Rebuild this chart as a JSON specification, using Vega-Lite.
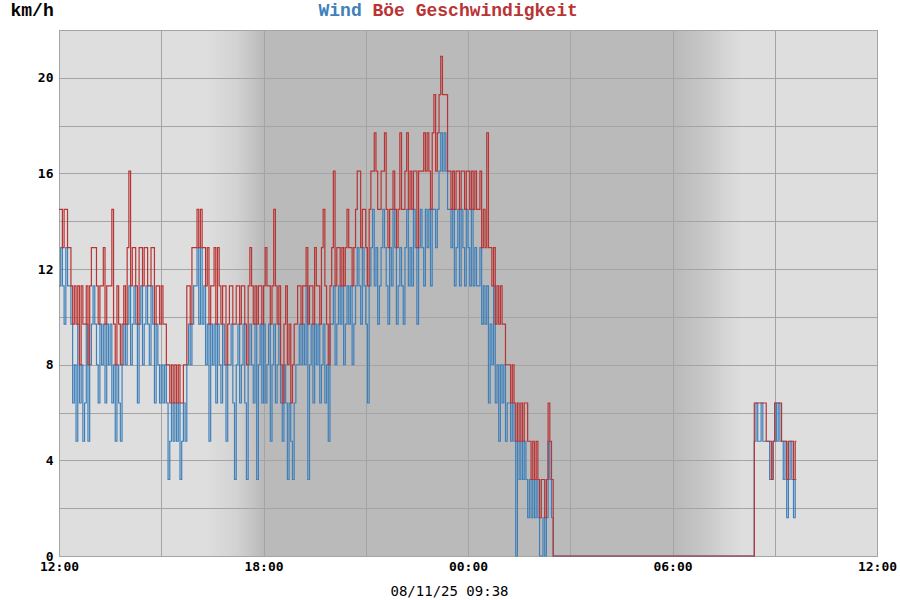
{
  "$schema": "https://vega.github.io/schema/vega-lite/v6.json",
  "width": 818,
  "height": 526,
  "autosize": "none",
  "padding": {"left": 59, "top": 30, "right": 23, "bottom": 44},
  "background": "white",
  "view": {
    "stroke": "#a4a4a4",
    "fill": {"gradient": "linear", "x1": 0, "y1": 0, "x2": 1, "y2": 0,
      "stops": [
        {"offset": 0, "color": "#dedede"},
        {"offset": 0.178, "color": "#dedede"},
        {"offset": 0.215, "color": "#d3d3d3"},
        {"offset": 0.236, "color": "#c4c4c4"},
        {"offset": 0.248, "color": "#bababa"},
        {"offset": 0.754, "color": "#bababa"},
        {"offset": 0.79, "color": "#c8c8c8"},
        {"offset": 0.815, "color": "#d6d6d6"},
        {"offset": 0.836, "color": "#dedede"},
        {"offset": 1, "color": "#dedede"}
      ]}
  },
  "data": {"values": [
    {"t":"2025-08-10T12:00","w":11.3,"g":14.5},{"t":"2025-08-10T12:03","w":12.9,"g":14.5},{"t":"2025-08-10T12:06","w":11.3,"g":12.9},{"t":"2025-08-10T12:09","w":9.7,"g":14.5},{"t":"2025-08-10T12:12","w":12.9,"g":14.5},
    {"t":"2025-08-10T12:15","w":11.3,"g":12.9},{"t":"2025-08-10T12:18","w":11.3,"g":12.9},{"t":"2025-08-10T12:21","w":9.7,"g":11.3},{"t":"2025-08-10T12:24","w":6.4,"g":9.7},{"t":"2025-08-10T12:27","w":8,"g":11.3},
    {"t":"2025-08-10T12:30","w":4.8,"g":9.7},{"t":"2025-08-10T12:33","w":9.7,"g":11.3},{"t":"2025-08-10T12:36","w":6.4,"g":8},{"t":"2025-08-10T12:39","w":8,"g":11.3},{"t":"2025-08-10T12:42","w":4.8,"g":9.7},
    {"t":"2025-08-10T12:45","w":6.4,"g":9.7},{"t":"2025-08-10T12:48","w":9.7,"g":11.3},{"t":"2025-08-10T12:51","w":4.8,"g":8},{"t":"2025-08-10T12:54","w":8,"g":11.3},{"t":"2025-08-10T12:57","w":9.7,"g":12.9},
    {"t":"2025-08-10T13:00","w":11.3,"g":12.9},{"t":"2025-08-10T13:03","w":9.7,"g":12.9},{"t":"2025-08-10T13:06","w":8,"g":11.3},{"t":"2025-08-10T13:09","w":6.4,"g":9.7},{"t":"2025-08-10T13:12","w":9.7,"g":11.3},
    {"t":"2025-08-10T13:15","w":8,"g":11.3},{"t":"2025-08-10T13:18","w":9.7,"g":12.9},{"t":"2025-08-10T13:21","w":6.4,"g":9.7},{"t":"2025-08-10T13:24","w":9.7,"g":11.3},{"t":"2025-08-10T13:27","w":8,"g":11.3},
    {"t":"2025-08-10T13:30","w":9.7,"g":11.3},{"t":"2025-08-10T13:33","w":6.4,"g":14.5},{"t":"2025-08-10T13:36","w":8,"g":9.7},{"t":"2025-08-10T13:39","w":4.8,"g":8},{"t":"2025-08-10T13:42","w":8,"g":11.3},
    {"t":"2025-08-10T13:45","w":6.4,"g":9.7},{"t":"2025-08-10T13:48","w":4.8,"g":8},{"t":"2025-08-10T13:51","w":8,"g":9.7},{"t":"2025-08-10T13:54","w":9.7,"g":11.3},{"t":"2025-08-10T13:57","w":8,"g":9.7},
    {"t":"2025-08-10T14:00","w":9.7,"g":12.9},{"t":"2025-08-10T14:03","w":11.3,"g":16.1},{"t":"2025-08-10T14:06","w":8,"g":11.3},{"t":"2025-08-10T14:09","w":9.7,"g":12.9},{"t":"2025-08-10T14:12","w":11.3,"g":12.9},
    {"t":"2025-08-10T14:15","w":9.7,"g":11.3},{"t":"2025-08-10T14:18","w":6.4,"g":9.7},{"t":"2025-08-10T14:21","w":9.7,"g":12.9},{"t":"2025-08-10T14:24","w":11.3,"g":12.9},{"t":"2025-08-10T14:27","w":8,"g":11.3},
    {"t":"2025-08-10T14:30","w":9.7,"g":12.9},{"t":"2025-08-10T14:33","w":11.3,"g":12.9},{"t":"2025-08-10T14:36","w":9.7,"g":11.3},{"t":"2025-08-10T14:39","w":8,"g":11.3},{"t":"2025-08-10T14:42","w":11.3,"g":12.9},
    {"t":"2025-08-10T14:45","w":9.7,"g":12.9},{"t":"2025-08-10T14:48","w":6.4,"g":9.7},{"t":"2025-08-10T14:51","w":9.7,"g":11.3},{"t":"2025-08-10T14:54","w":8,"g":11.3},{"t":"2025-08-10T14:57","w":6.4,"g":9.7},
    {"t":"2025-08-10T15:00","w":8,"g":11.3},{"t":"2025-08-10T15:03","w":6.4,"g":9.7},{"t":"2025-08-10T15:06","w":8,"g":9.7},{"t":"2025-08-10T15:09","w":6.4,"g":8},{"t":"2025-08-10T15:12","w":3.2,"g":8},
    {"t":"2025-08-10T15:15","w":4.8,"g":6.4},{"t":"2025-08-10T15:18","w":6.4,"g":8},{"t":"2025-08-10T15:21","w":4.8,"g":6.4},{"t":"2025-08-10T15:24","w":6.4,"g":8},{"t":"2025-08-10T15:27","w":4.8,"g":6.4},
    {"t":"2025-08-10T15:30","w":6.4,"g":8},{"t":"2025-08-10T15:33","w":3.2,"g":6.4},{"t":"2025-08-10T15:36","w":4.8,"g":6.4},{"t":"2025-08-10T15:39","w":6.4,"g":8},{"t":"2025-08-10T15:42","w":4.8,"g":8},
    {"t":"2025-08-10T15:45","w":8,"g":11.3},{"t":"2025-08-10T15:48","w":9.7,"g":11.3},{"t":"2025-08-10T15:51","w":8,"g":9.7},{"t":"2025-08-10T15:54","w":9.7,"g":12.9},{"t":"2025-08-10T15:57","w":11.3,"g":12.9},
    {"t":"2025-08-10T16:00","w":11.3,"g":12.9},{"t":"2025-08-10T16:03","w":12.9,"g":14.5},{"t":"2025-08-10T16:06","w":9.7,"g":12.9},{"t":"2025-08-10T16:09","w":12.9,"g":14.5},{"t":"2025-08-10T16:12","w":9.7,"g":12.9},
    {"t":"2025-08-10T16:15","w":11.3,"g":12.9},{"t":"2025-08-10T16:18","w":8,"g":11.3},{"t":"2025-08-10T16:21","w":9.7,"g":12.9},{"t":"2025-08-10T16:24","w":4.8,"g":9.7},{"t":"2025-08-10T16:27","w":9.7,"g":11.3},
    {"t":"2025-08-10T16:30","w":8,"g":11.3},{"t":"2025-08-10T16:33","w":9.7,"g":12.9},{"t":"2025-08-10T16:36","w":6.4,"g":9.7},{"t":"2025-08-10T16:39","w":9.7,"g":12.9},{"t":"2025-08-10T16:42","w":8,"g":11.3},
    {"t":"2025-08-10T16:45","w":6.4,"g":9.7},{"t":"2025-08-10T16:48","w":9.7,"g":11.3},{"t":"2025-08-10T16:51","w":8,"g":11.3},{"t":"2025-08-10T16:54","w":4.8,"g":8},{"t":"2025-08-10T16:57","w":8,"g":9.7},
    {"t":"2025-08-10T17:00","w":8,"g":11.3},{"t":"2025-08-10T17:03","w":9.7,"g":11.3},{"t":"2025-08-10T17:06","w":6.4,"g":9.7},{"t":"2025-08-10T17:09","w":3.2,"g":9.7},{"t":"2025-08-10T17:12","w":8,"g":11.3},
    {"t":"2025-08-10T17:15","w":9.7,"g":11.3},{"t":"2025-08-10T17:18","w":6.4,"g":9.7},{"t":"2025-08-10T17:21","w":8,"g":11.3},{"t":"2025-08-10T17:24","w":9.7,"g":11.3},{"t":"2025-08-10T17:27","w":6.4,"g":9.7},
    {"t":"2025-08-10T17:30","w":3.2,"g":8},{"t":"2025-08-10T17:33","w":8,"g":11.3},{"t":"2025-08-10T17:36","w":9.7,"g":12.9},{"t":"2025-08-10T17:39","w":8,"g":11.3},{"t":"2025-08-10T17:42","w":6.4,"g":9.7},
    {"t":"2025-08-10T17:45","w":9.7,"g":11.3},{"t":"2025-08-10T17:48","w":3.2,"g":9.7},{"t":"2025-08-10T17:51","w":8,"g":11.3},{"t":"2025-08-10T17:54","w":9.7,"g":11.3},{"t":"2025-08-10T17:57","w":6.4,"g":9.7},
    {"t":"2025-08-10T18:00","w":9.7,"g":11.3},{"t":"2025-08-10T18:03","w":6.4,"g":12.9},{"t":"2025-08-10T18:06","w":8,"g":11.3},{"t":"2025-08-10T18:09","w":9.7,"g":11.3},{"t":"2025-08-10T18:12","w":4.8,"g":9.7},
    {"t":"2025-08-10T18:15","w":8,"g":11.3},{"t":"2025-08-10T18:18","w":9.7,"g":14.5},{"t":"2025-08-10T18:21","w":6.4,"g":11.3},{"t":"2025-08-10T18:24","w":8,"g":9.7},{"t":"2025-08-10T18:27","w":9.7,"g":11.3},
    {"t":"2025-08-10T18:30","w":6.4,"g":8},{"t":"2025-08-10T18:33","w":4.8,"g":6.4},{"t":"2025-08-10T18:36","w":8,"g":9.7},{"t":"2025-08-10T18:39","w":6.4,"g":11.3},{"t":"2025-08-10T18:42","w":3.2,"g":8},
    {"t":"2025-08-10T18:45","w":6.4,"g":9.7},{"t":"2025-08-10T18:48","w":4.8,"g":6.4},{"t":"2025-08-10T18:51","w":3.2,"g":8},{"t":"2025-08-10T18:54","w":6.4,"g":9.7},{"t":"2025-08-10T18:57","w":8,"g":9.7},
    {"t":"2025-08-10T19:00","w":8,"g":11.3},{"t":"2025-08-10T19:03","w":9.7,"g":11.3},{"t":"2025-08-10T19:06","w":8,"g":9.7},{"t":"2025-08-10T19:09","w":9.7,"g":11.3},{"t":"2025-08-10T19:12","w":8,"g":11.3},
    {"t":"2025-08-10T19:15","w":11.3,"g":12.9},{"t":"2025-08-10T19:18","w":3.2,"g":9.7},{"t":"2025-08-10T19:21","w":8,"g":11.3},{"t":"2025-08-10T19:24","w":9.7,"g":11.3},{"t":"2025-08-10T19:27","w":6.4,"g":9.7},
    {"t":"2025-08-10T19:30","w":9.7,"g":12.9},{"t":"2025-08-10T19:33","w":8,"g":11.3},{"t":"2025-08-10T19:36","w":9.7,"g":11.3},{"t":"2025-08-10T19:39","w":6.4,"g":9.7},{"t":"2025-08-10T19:42","w":8,"g":12.9},
    {"t":"2025-08-10T19:45","w":9.7,"g":14.5},{"t":"2025-08-10T19:48","w":6.4,"g":11.3},{"t":"2025-08-10T19:51","w":8,"g":9.7},{"t":"2025-08-10T19:54","w":4.8,"g":8},{"t":"2025-08-10T19:57","w":9.7,"g":11.3},
    {"t":"2025-08-10T20:00","w":9.7,"g":12.9},{"t":"2025-08-10T20:03","w":11.3,"g":16.1},{"t":"2025-08-10T20:06","w":8,"g":11.3},{"t":"2025-08-10T20:09","w":9.7,"g":12.9},{"t":"2025-08-10T20:12","w":11.3,"g":12.9},
    {"t":"2025-08-10T20:15","w":9.7,"g":11.3},{"t":"2025-08-10T20:18","w":11.3,"g":12.9},{"t":"2025-08-10T20:21","w":8,"g":11.3},{"t":"2025-08-10T20:24","w":9.7,"g":12.9},{"t":"2025-08-10T20:27","w":11.3,"g":14.5},
    {"t":"2025-08-10T20:30","w":9.7,"g":12.9},{"t":"2025-08-10T20:33","w":11.3,"g":12.9},{"t":"2025-08-10T20:36","w":8,"g":11.3},{"t":"2025-08-10T20:39","w":9.7,"g":12.9},{"t":"2025-08-10T20:42","w":11.3,"g":14.5},
    {"t":"2025-08-10T20:45","w":12.9,"g":16.1},{"t":"2025-08-10T20:48","w":11.3,"g":16.1},{"t":"2025-08-10T20:51","w":9.7,"g":12.9},{"t":"2025-08-10T20:54","w":12.9,"g":14.5},{"t":"2025-08-10T20:57","w":11.3,"g":14.5},
    {"t":"2025-08-10T21:00","w":9.7,"g":12.9},{"t":"2025-08-10T21:03","w":6.4,"g":11.3},{"t":"2025-08-10T21:06","w":11.3,"g":14.5},{"t":"2025-08-10T21:09","w":12.9,"g":16.1},{"t":"2025-08-10T21:12","w":14.5,"g":16.1},
    {"t":"2025-08-10T21:15","w":11.3,"g":17.7},{"t":"2025-08-10T21:18","w":12.9,"g":16.1},{"t":"2025-08-10T21:21","w":9.7,"g":14.5},{"t":"2025-08-10T21:24","w":11.3,"g":14.5},{"t":"2025-08-10T21:27","w":12.9,"g":16.1},
    {"t":"2025-08-10T21:30","w":14.5,"g":16.1},{"t":"2025-08-10T21:33","w":12.9,"g":17.7},{"t":"2025-08-10T21:36","w":11.3,"g":14.5},{"t":"2025-08-10T21:39","w":9.7,"g":12.9},{"t":"2025-08-10T21:42","w":12.9,"g":14.5},
    {"t":"2025-08-10T21:45","w":11.3,"g":14.5},{"t":"2025-08-10T21:48","w":14.5,"g":16.1},{"t":"2025-08-10T21:51","w":12.9,"g":14.5},{"t":"2025-08-10T21:54","w":9.7,"g":12.9},{"t":"2025-08-10T21:57","w":11.3,"g":14.5},
    {"t":"2025-08-10T22:00","w":12.9,"g":17.7},{"t":"2025-08-10T22:03","w":11.3,"g":14.5},{"t":"2025-08-10T22:06","w":9.7,"g":14.5},{"t":"2025-08-10T22:09","w":12.9,"g":16.1},{"t":"2025-08-10T22:12","w":14.5,"g":17.7},
    {"t":"2025-08-10T22:15","w":11.3,"g":14.5},{"t":"2025-08-10T22:18","w":12.9,"g":16.1},{"t":"2025-08-10T22:21","w":11.3,"g":14.5},{"t":"2025-08-10T22:24","w":14.5,"g":16.1},{"t":"2025-08-10T22:27","w":12.9,"g":16.1},
    {"t":"2025-08-10T22:30","w":9.7,"g":12.9},{"t":"2025-08-10T22:33","w":12.9,"g":16.1},{"t":"2025-08-10T22:36","w":14.5,"g":16.1},{"t":"2025-08-10T22:39","w":12.9,"g":16.1},{"t":"2025-08-10T22:42","w":11.3,"g":17.7},
    {"t":"2025-08-10T22:45","w":14.5,"g":16.1},{"t":"2025-08-10T22:48","w":12.9,"g":17.7},{"t":"2025-08-10T22:51","w":14.5,"g":16.1},{"t":"2025-08-10T22:54","w":11.3,"g":14.5},{"t":"2025-08-10T22:57","w":14.5,"g":17.7},
    {"t":"2025-08-10T23:00","w":14.5,"g":19.3},{"t":"2025-08-10T23:03","w":12.9,"g":16.1},{"t":"2025-08-10T23:06","w":14.5,"g":17.7},{"t":"2025-08-10T23:09","w":16.1,"g":19.3},{"t":"2025-08-10T23:12","w":17.7,"g":20.9},
    {"t":"2025-08-10T23:15","w":16.1,"g":19.3},{"t":"2025-08-10T23:18","w":17.7,"g":19.3},{"t":"2025-08-10T23:21","w":16.1,"g":19.3},{"t":"2025-08-10T23:24","w":14.5,"g":16.1},{"t":"2025-08-10T23:27","w":14.5,"g":16.1},
    {"t":"2025-08-10T23:30","w":12.9,"g":14.5},{"t":"2025-08-10T23:33","w":14.5,"g":16.1},{"t":"2025-08-10T23:36","w":11.3,"g":14.5},{"t":"2025-08-10T23:39","w":12.9,"g":16.1},{"t":"2025-08-10T23:42","w":14.5,"g":16.1},
    {"t":"2025-08-10T23:45","w":11.3,"g":14.5},{"t":"2025-08-10T23:48","w":14.5,"g":16.1},{"t":"2025-08-10T23:51","w":12.9,"g":16.1},{"t":"2025-08-10T23:54","w":11.3,"g":14.5},{"t":"2025-08-10T23:57","w":14.5,"g":16.1},
    {"t":"2025-08-11T00:00","w":12.9,"g":16.1},{"t":"2025-08-11T00:03","w":11.3,"g":14.5},{"t":"2025-08-11T00:06","w":14.5,"g":16.1},{"t":"2025-08-11T00:09","w":11.3,"g":14.5},{"t":"2025-08-11T00:12","w":12.9,"g":16.1},
    {"t":"2025-08-11T00:15","w":11.3,"g":14.5},{"t":"2025-08-11T00:18","w":11.3,"g":14.5},{"t":"2025-08-11T00:21","w":12.9,"g":16.1},{"t":"2025-08-11T00:24","w":9.7,"g":12.9},{"t":"2025-08-11T00:27","w":11.3,"g":14.5},
    {"t":"2025-08-11T00:30","w":9.7,"g":12.9},{"t":"2025-08-11T00:33","w":11.3,"g":17.7},{"t":"2025-08-11T00:36","w":6.4,"g":12.9},{"t":"2025-08-11T00:39","w":9.7,"g":12.9},{"t":"2025-08-11T00:42","w":8,"g":11.3},
    {"t":"2025-08-11T00:45","w":11.3,"g":12.9},{"t":"2025-08-11T00:48","w":6.4,"g":9.7},{"t":"2025-08-11T00:51","w":8,"g":11.3},{"t":"2025-08-11T00:54","w":4.8,"g":9.7},{"t":"2025-08-11T00:57","w":8,"g":11.3},
    {"t":"2025-08-11T01:00","w":6.4,"g":9.7},{"t":"2025-08-11T01:03","w":8,"g":9.7},{"t":"2025-08-11T01:06","w":4.8,"g":8},{"t":"2025-08-11T01:09","w":6.4,"g":8},{"t":"2025-08-11T01:12","w":6.4,"g":8},
    {"t":"2025-08-11T01:15","w":4.8,"g":6.4},{"t":"2025-08-11T01:18","w":6.4,"g":8},{"t":"2025-08-11T01:21","w":4.8,"g":6.4},{"t":"2025-08-11T01:24","w":0,"g":4.8},{"t":"2025-08-11T01:27","w":4.8,"g":6.4},
    {"t":"2025-08-11T01:30","w":3.2,"g":4.8},{"t":"2025-08-11T01:33","w":4.8,"g":6.4},{"t":"2025-08-11T01:36","w":3.2,"g":4.8},{"t":"2025-08-11T01:39","w":4.8,"g":6.4},{"t":"2025-08-11T01:42","w":3.2,"g":6.4},
    {"t":"2025-08-11T01:45","w":1.6,"g":4.8},{"t":"2025-08-11T01:48","w":3.2,"g":4.8},{"t":"2025-08-11T01:51","w":1.6,"g":3.2},{"t":"2025-08-11T01:54","w":3.2,"g":4.8},{"t":"2025-08-11T01:57","w":1.6,"g":3.2},
    {"t":"2025-08-11T02:00","w":3.2,"g":4.8},{"t":"2025-08-11T02:03","w":1.6,"g":3.2},{"t":"2025-08-11T02:06","w":0,"g":1.6},{"t":"2025-08-11T02:09","w":0,"g":3.2},{"t":"2025-08-11T02:12","w":1.6,"g":3.2},
    {"t":"2025-08-11T02:15","w":0,"g":1.6},{"t":"2025-08-11T02:18","w":1.6,"g":3.2},{"t":"2025-08-11T02:21","w":4.8,"g":6.4},{"t":"2025-08-11T02:24","w":3.2,"g":4.8},{"t":"2025-08-11T02:27","w":1.6,"g":3.2},
    {"t":"2025-08-11T02:30","w":0,"g":0},
    {"t":"2025-08-11T08:21","w":0,"g":0},
    {"t":"2025-08-11T08:24","w":4.8,"g":6.4},{"t":"2025-08-11T08:27","w":6.4,"g":6.4},{"t":"2025-08-11T08:30","w":4.8,"g":6.4},{"t":"2025-08-11T08:33","w":4.8,"g":6.4},{"t":"2025-08-11T08:36","w":6.4,"g":6.4},
    {"t":"2025-08-11T08:39","w":4.8,"g":6.4},{"t":"2025-08-11T08:42","w":4.8,"g":6.4},{"t":"2025-08-11T08:45","w":4.8,"g":4.8},{"t":"2025-08-11T08:48","w":4.8,"g":4.8},{"t":"2025-08-11T08:51","w":3.2,"g":4.8},
    {"t":"2025-08-11T08:54","w":3.2,"g":3.2},{"t":"2025-08-11T08:57","w":4.8,"g":4.8},{"t":"2025-08-11T09:00","w":6.4,"g":6.4},{"t":"2025-08-11T09:03","w":4.8,"g":6.4},{"t":"2025-08-11T09:06","w":6.4,"g":6.4},
    {"t":"2025-08-11T09:09","w":4.8,"g":6.4},{"t":"2025-08-11T09:12","w":4.8,"g":4.8},{"t":"2025-08-11T09:15","w":3.2,"g":4.8},{"t":"2025-08-11T09:18","w":4.8,"g":4.8},{"t":"2025-08-11T09:21","w":1.6,"g":3.2},
    {"t":"2025-08-11T09:24","w":3.2,"g":4.8},{"t":"2025-08-11T09:27","w":4.8,"g":4.8},{"t":"2025-08-11T09:30","w":3.2,"g":4.8},{"t":"2025-08-11T09:33","w":1.6,"g":3.2},{"t":"2025-08-11T09:36","w":3.2,"g":4.8},
    {"t":"2025-08-11T09:38","w":3.2,"g":4.8}
  ]},
  "resolve": {"axis": {"x": "independent", "y": "independent"}},
  "layer": [
    {
      "mark": {"type": "line", "interpolate": "step-after", "color": "#3f80ba", "strokeWidth": 1.2},
      "encoding": {
        "x": {
          "field": "t", "type": "temporal",
          "scale": {"domain": [{"year": 2025, "month": 8, "date": 10, "hours": 12}, {"year": 2025, "month": 8, "date": 11, "hours": 12}]},
          "axis": {
            "orient": "bottom",
            "values": [
              {"year": 2025, "month": 8, "date": 10, "hours": 12},
              {"year": 2025, "month": 8, "date": 10, "hours": 15},
              {"year": 2025, "month": 8, "date": 10, "hours": 18},
              {"year": 2025, "month": 8, "date": 10, "hours": 21},
              {"year": 2025, "month": 8, "date": 11, "hours": 0},
              {"year": 2025, "month": 8, "date": 11, "hours": 3},
              {"year": 2025, "month": 8, "date": 11, "hours": 6},
              {"year": 2025, "month": 8, "date": 11, "hours": 9},
              {"year": 2025, "month": 8, "date": 11, "hours": 12}
            ],
            "format": "%H:%M",
            "labelExpr": "hours(datum.value) % 6 === 0 ? datum.label : ''",
            "labelFlush": false,
            "labelOverlap": false,
            "labelPadding": 4,
            "grid": true,
            "title": "08/11/25 09:38",
            "titleX": 390,
            "titleAlign": "center",
            "titlePadding": 11,
            "titleFont": "DejaVu Sans Mono",
            "titleFontSize": 14,
            "titleFontWeight": "normal"
          }
        },
        "y": {
          "field": "w", "type": "quantitative",
          "scale": {"domain": [0, 22], "nice": false},
          "axis": {
            "orient": "left",
            "values": [0, 2, 4, 6, 8, 10, 12, 14, 16, 18, 20, 22],
            "labelExpr": "datum.value % 4 === 0 ? datum.value : ''",
            "labelOverlap": false,
            "labelPadding": 6,
            "grid": true,
            "title": "km/h",
            "titleAngle": 0,
            "titleAlign": "left",
            "titleBaseline": "middle",
            "titleX": -49,
            "titleY": -20,
            "titleFont": "Liberation Mono",
            "titleFontSize": 18,
            "titleFontWeight": "bold"
          }
        }
      }
    },
    {
      "mark": {"type": "line", "interpolate": "step-after", "color": "#b93434", "strokeWidth": 1.2},
      "encoding": {
        "x": {
          "field": "t", "type": "temporal",
          "scale": {"domain": [{"year": 2025, "month": 8, "date": 10, "hours": 12}, {"year": 2025, "month": 8, "date": 11, "hours": 12}]},
          "axis": {
            "orient": "top",
            "grid": false,
            "labels": false,
            "title": "Wind",
            "titleAngle": 0,
            "titleAlign": "left",
            "titleBaseline": "middle",
            "titleX": 259,
            "titleY": -20,
            "titleColor": "#3f80ba",
            "titleFont": "Liberation Mono",
            "titleFontSize": 18,
            "titleFontWeight": "bold"
          }
        },
        "y": {
          "field": "g", "type": "quantitative",
          "scale": {"domain": [0, 22], "nice": false},
          "axis": {
            "orient": "right",
            "grid": false,
            "labels": false,
            "title": "Böe Geschwindigkeit",
            "titleAngle": 0,
            "titleAlign": "left",
            "titleBaseline": "middle",
            "titleX": -505,
            "titleY": -20,
            "titleColor": "#b93434",
            "titleFont": "Liberation Mono",
            "titleFontSize": 18,
            "titleFontWeight": "bold"
          }
        }
      }
    }
  ],
  "config": {
    "axis": {
      "domain": false,
      "ticks": false,
      "gridColor": "#a4a4a4",
      "gridWidth": 1,
      "gridOpacity": 1,
      "labelFont": "DejaVu Sans Mono",
      "labelFontSize": 13,
      "labelFontWeight": "bold",
      "labelColor": "#000000",
      "titleColor": "#000000"
    }
  }
}
